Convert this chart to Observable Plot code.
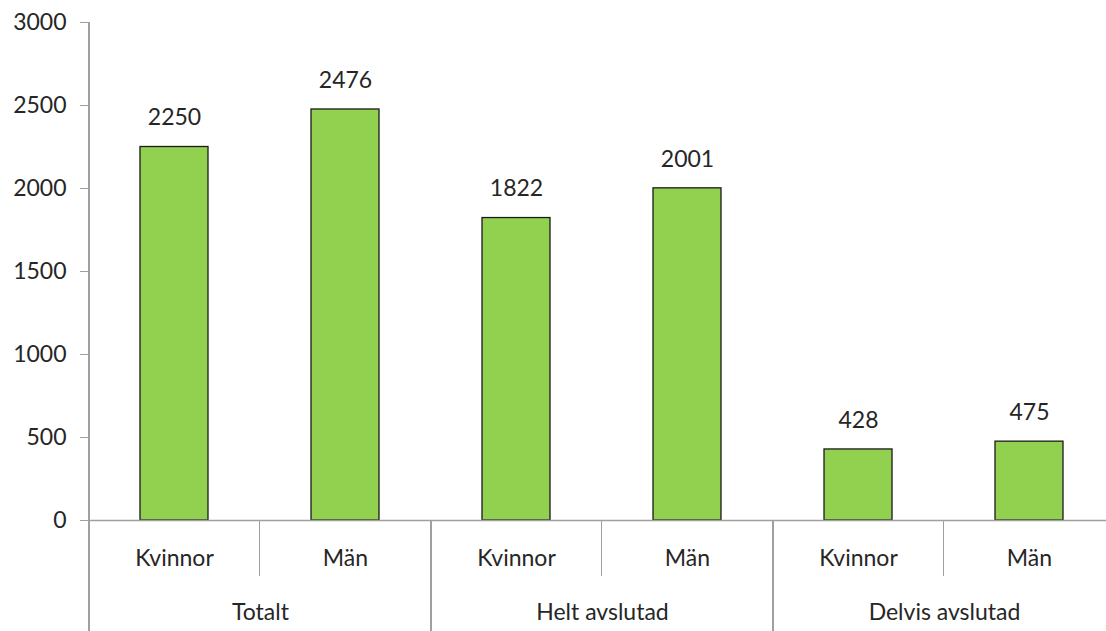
<!DOCTYPE html>
<html><head><meta charset="utf-8">
<script src="https://cdn.jsdelivr.net/npm/d3@7"></script>
<script src="https://cdn.jsdelivr.net/npm/@observablehq/plot@0.6"></script>
<style>
body{margin:0;background:#fff;}
#chart svg{font-family:Lato,"Open Sans",sans-serif;}
</style>
</head><body><div id="chart"></div>
<script>
const groups = ["Totalt", "Helt avslutad", "Delvis avslutad"];
const sexes = ["Kvinnor", "Män"];
const kvinnor = [2250, 1822, 428];
const man = [2476, 2001, 475];
const yTicks = [0, 500, 1000, 1500, 2000, 2500, 3000];

const data = groups.flatMap((g, i) => [
  {group: g, sex: sexes[0], value: kvinnor[i]},
  {group: g, sex: sexes[1], value: man[i]}
]);

const gray = "#a0a0a0";
const ink = "#262626";

const chart = Plot.plot({
  width: 1106, height: 631,
  marginLeft: 88, marginRight: -10, marginTop: 22, marginBottom: 111,
  style: {fontFamily: "Lato, 'Open Sans', sans-serif", fontSize: "23px", color: ink, background: "#fff", overflow: "visible"},
  fx: {domain: groups, padding: 0, axis: null},
  x: {domain: sexes, paddingInner: 0.6, paddingOuter: 0.3, axis: null},
  y: {domain: [0, 3000], axis: null},
  marks: [
    Plot.axisY({ticks: yTicks, tickFormat: d => String(d), tickSize: 9, tickPadding: 14, stroke: gray, fill: ink, fontSize: 23, label: null}),
    Plot.barY(data, {fx: "group", x: "sex", y: "value", fill: "#92D050", stroke: "#1a1a1a", strokeWidth: 1.3}),
    Plot.ruleY([0], {stroke: gray, strokeWidth: 1.3}),
    Plot.text(data, {fx: "group", x: "sex", y: "value", text: d => String(d.value), dy: -29, fontSize: 23, fill: ink}),
    Plot.text(data, {fx: "group", x: "sex", text: "sex", frameAnchor: "bottom", dy: 45, fontSize: 23, fill: ink}),
    Plot.text(groups, {fx: d => d, text: d => d, frameAnchor: "bottom", dy: 99, fontSize: 23, fill: ink})
  ]
});
document.getElementById("chart").appendChild(chart);

// Category separators derived from the library's scales
const fx = chart.scale("fx"), x = chart.scale("x"), y = chart.scale("y");
const svg = d3.select(chart);
const y0 = y.apply(0), yTop = y.apply(3000), H = 631;
const xOrigin = x.range[0];
const g = svg.append("g").attr("stroke", gray).attr("stroke-width", 1.3).attr("shape-rendering", "crispEdges");
g.append("line").attr("x1", fx.apply(groups[0])).attr("x2", fx.apply(groups[0])).attr("y1", yTop).attr("y2", H);
groups.forEach((grp, i) => {
  const left = fx.apply(grp);
  if (i > 0) g.append("line").attr("x1", left).attr("x2", left).attr("y1", y0).attr("y2", H);
  const mid = left + (x.apply(sexes[0]) + x.apply(sexes[1]) + x.bandwidth) / 2 - xOrigin;
  g.append("line").attr("x1", mid).attr("x2", mid).attr("y1", y0).attr("y2", y0 + 56);
});
const end = fx.apply(groups[groups.length - 1]) + fx.bandwidth;
g.append("line").attr("x1", end).attr("x2", end).attr("y1", y0).attr("y2", H);
</script>
</body></html>
